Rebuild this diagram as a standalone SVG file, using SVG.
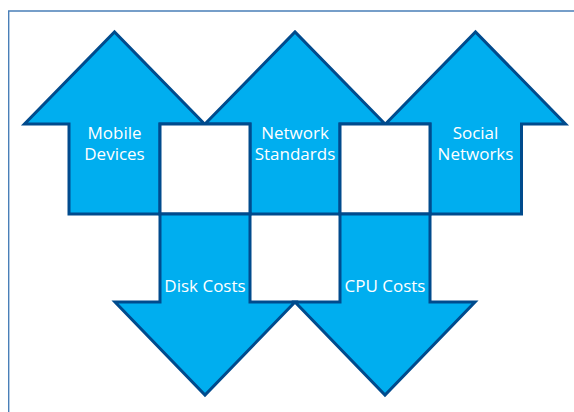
<svg xmlns="http://www.w3.org/2000/svg" width="574" height="412" viewBox="0 0 574 412">
  <style>
    .arrow { fill: #00aeef; stroke: #004b8d; stroke-width: 3; stroke-linejoin: miter; stroke-miterlimit: 10; }
    .gap { fill: #ffffff; stroke: #004b8d; stroke-width: 3; }
    .label { font-family: "Open Sans", "Liberation Sans", sans-serif; font-size: 17px; fill: #ffffff; text-anchor: middle; }
    .frame { fill: none; stroke: #4a7fb8; stroke-width: 1.4; }
  </style>
  <rect width="574" height="412" fill="#ffffff"/>
  <!-- outer frame, open to the right and bottom -->
  <path class="frame" d="M 580 11 H 8.7 V 420"/>

  <!-- rising trends -->
  <g id="mobile-devices">
    <polygon class="arrow" points="69,214 69,124 24.5,124 114.5,32 204.5,124 160,124 160,214"/>
    <text class="label" x="114.5" y="139">Mobile</text>
    <text class="label" x="114.5" y="160">Devices</text>
  </g>
  <g id="network-standards">
    <polygon class="arrow" points="250,214 250,124 205,124 295,32 385,124 340,124 340,214"/>
    <text class="label" x="295" y="139">Network</text>
    <text class="label" x="295" y="160">Standards</text>
  </g>
  <g id="social-networks">
    <polygon class="arrow" points="430,214 430,124 385.5,124 475.5,32 565.5,124 521.5,124 521.5,214"/>
    <text class="label" x="475.5" y="139">Social</text>
    <text class="label" x="475.5" y="160">Networks</text>
  </g>

  <!-- white cells between the rising shafts -->
  <g id="gaps">
    <rect class="gap" x="160" y="124" width="90" height="90"/>
    <rect class="gap" x="340" y="124" width="90" height="90"/>
  </g>

  <!-- falling trends -->
  <g id="disk-costs">
    <polygon class="arrow" points="160,214 160,302 115,302 205,395 295,302 250,302 250,214"/>
    <text class="label" x="205" y="292">Disk Costs</text>
  </g>
  <g id="cpu-costs">
    <polygon class="arrow" points="340,214 340,302 295,302 385,395 475,302 430,302 430,214"/>
    <text class="label" x="385" y="292">CPU Costs</text>
  </g>

  <g id="connectors"></g>
</svg>
